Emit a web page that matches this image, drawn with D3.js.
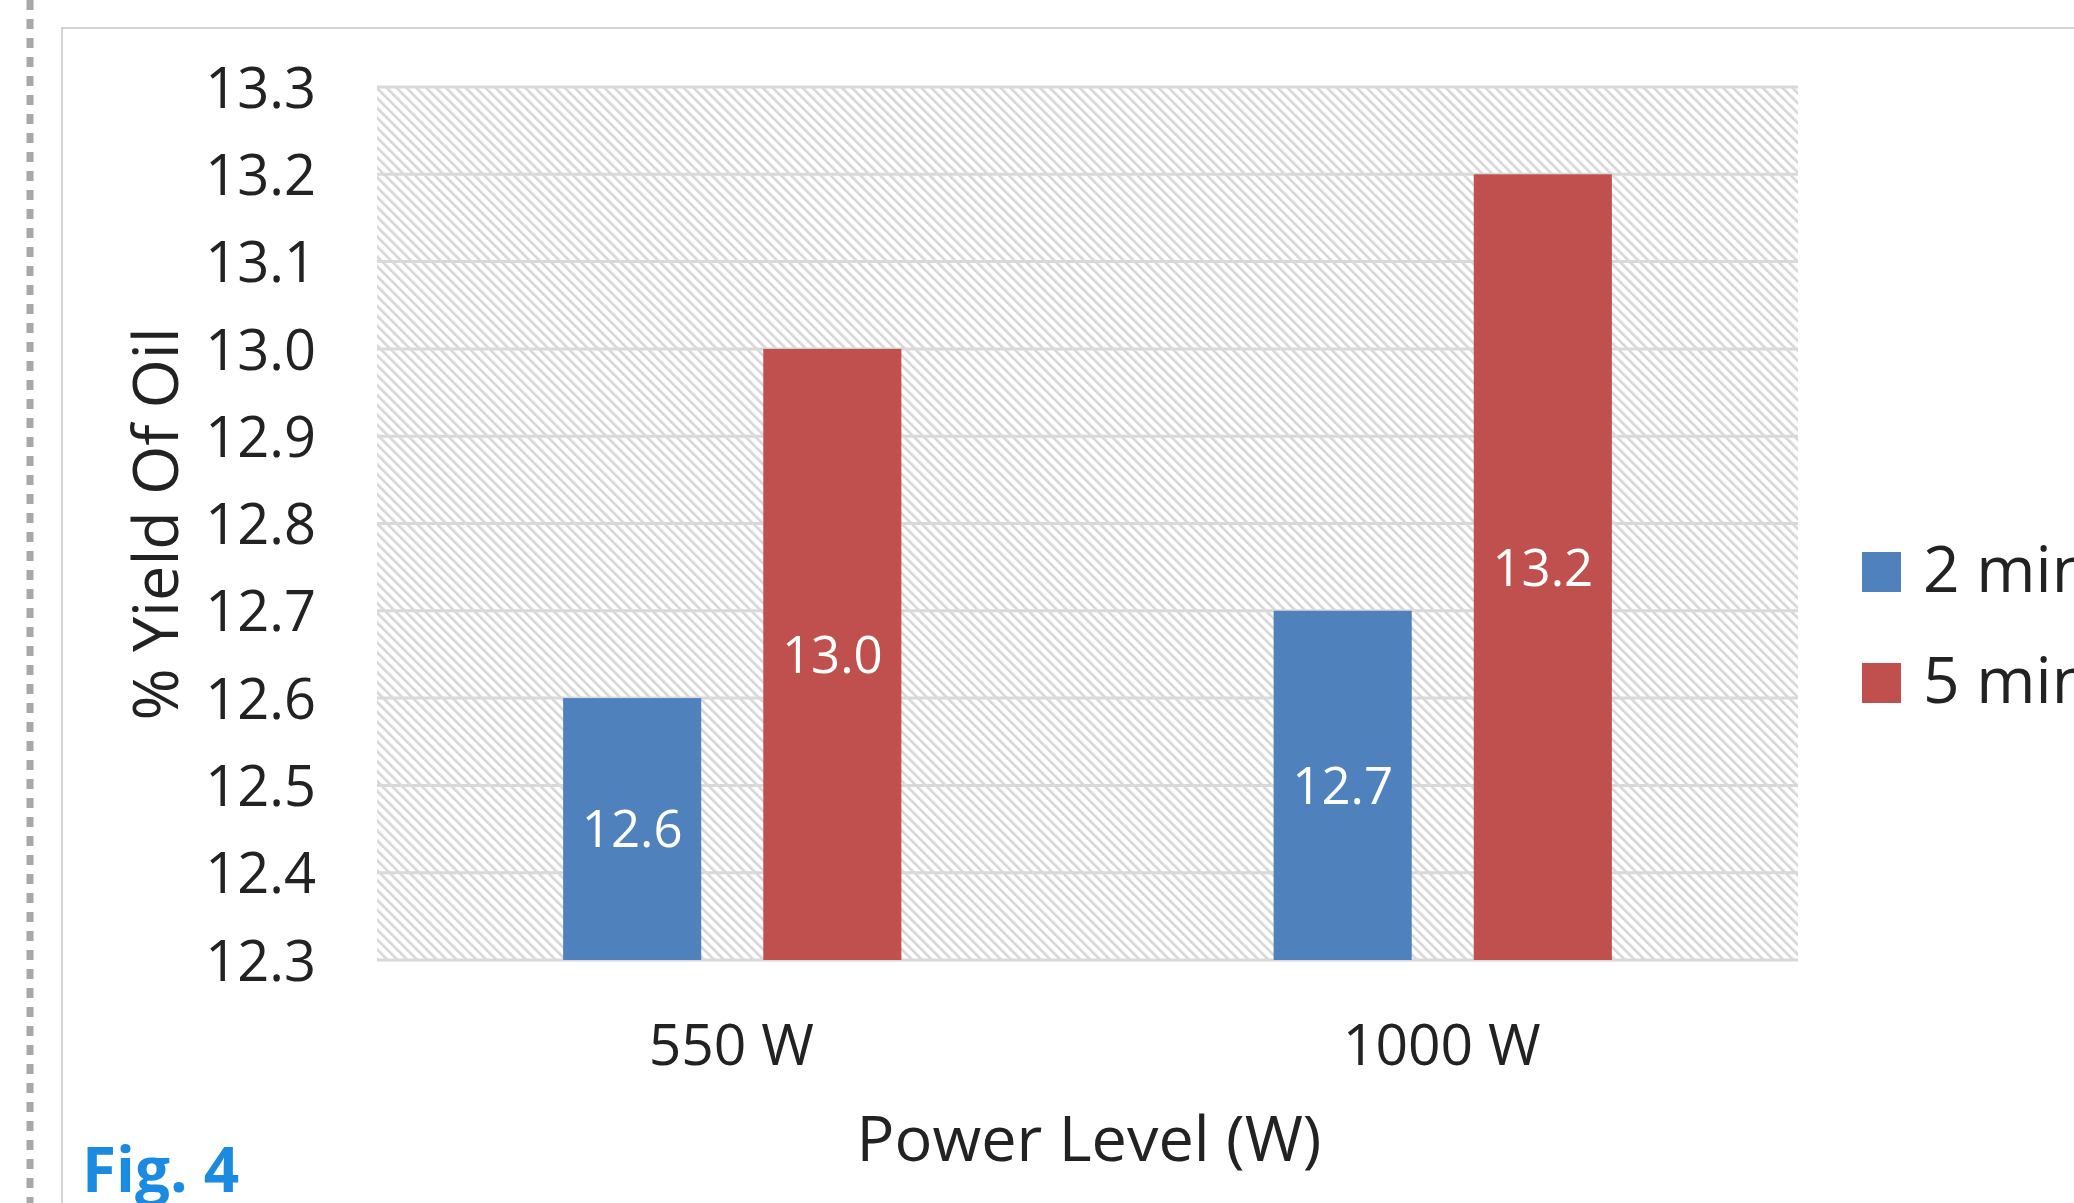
<!DOCTYPE html>
<html>
<head>
<meta charset="utf-8">
<script src="https://cdn.jsdelivr.net/npm/d3@7"></script>
<style>
  html, body { margin: 0; padding: 0; background: #ffffff; }
  svg { display: block; }
  text { font-family: "Open Sans", "Noto Sans", sans-serif; }
</style>
</head>
<body>
<div id="chart"></div>
<script>
// Oil yield by microwave power level and extraction time
const categories = ["550 W", "1000 W"];
const seriesNames = ["2 min", "5 min"];
const yield2min = [12.6, 12.7];
const yield5min = [13.0, 13.2];
const yTicks = [12.3, 12.4, 12.5, 12.6, 12.7, 12.8, 12.9, 13.0, 13.1, 13.2, 13.3];
const seriesColors = ["#4f81bd", "#c0504d"];

const W = 2074, H = 1203;
const plot = { left: 377, right: 1798, top: 87, bottom: 960 };

const svg = d3.select("#chart").append("svg")
  .attr("width", W).attr("height", H);

// downward diagonal hatch for the plot background
const defs = svg.append("defs");
const pat = defs.append("pattern")
  .attr("id", "hatch")
  .attr("patternUnits", "userSpaceOnUse")
  .attr("width", 7).attr("height", 7)
  .attr("patternTransform", "rotate(-45)");
pat.append("rect").attr("width", 7).attr("height", 7).attr("fill", "#ffffff");
pat.append("rect").attr("x", 0).attr("y", 0).attr("width", 2.6).attr("height", 7).attr("fill", "#d6d6d6");

// page decorations: dashed margin rule and chart frame
svg.append("line")
  .attr("x1", 30).attr("x2", 30).attr("y1", 0).attr("y2", H)
  .attr("stroke", "#a8a8a8").attr("stroke-width", 7)
  .attr("stroke-dasharray", "10 9");
svg.append("path")
  .attr("d", `M62,${H} L62,28 L${W},28`)
  .attr("fill", "none").attr("stroke", "#d4d4d4").attr("stroke-width", 2);

const x0 = d3.scaleBand().domain(categories).range([plot.left, plot.right]).padding(0);
const x1 = d3.scaleBand().domain(seriesNames)
  .range([0, x0.bandwidth()]).paddingInner(0.31).paddingOuter(0.93);
const y = d3.scaleLinear().domain([12.3, 13.3]).range([plot.bottom, plot.top]);

// plot area
svg.append("rect")
  .attr("x", plot.left).attr("y", plot.top)
  .attr("width", plot.right - plot.left).attr("height", plot.bottom - plot.top)
  .attr("fill", "url(#hatch)");

// gridlines
svg.append("g").selectAll("line").data(yTicks).join("line")
  .attr("x1", plot.left).attr("x2", plot.right)
  .attr("y1", d => y(d)).attr("y2", d => y(d))
  .attr("stroke", "#d9d9d9").attr("stroke-width", 3);

// y axis labels
const yAxis = d3.axisLeft(y).tickValues(yTicks).tickFormat(d3.format(".1f")).tickSize(0).tickPadding(0);
const gy = svg.append("g").attr("transform", "translate(316,0)").call(yAxis);
gy.select(".domain").remove();
gy.selectAll("text")
  .attr("font-size", 56).attr("fill", "#222").attr("dy", "0.36em")
  .style("font-family", "'Open Sans', sans-serif");

// x axis labels
const xAxis = d3.axisBottom(x0).tickSize(0).tickPadding(0);
const gx = svg.append("g").attr("transform", "translate(-1,0)").call(xAxis);
gx.select(".domain").remove();
gx.selectAll("text")
  .attr("y", 1065).attr("dy", 0)
  .attr("font-size", 57).attr("fill", "#222")
  .style("font-family", "'Open Sans', sans-serif");

// bars
const rows = categories.map((c, i) => ({
  category: c,
  values: [
    { series: seriesNames[0], value: yield2min[i], color: seriesColors[0] },
    { series: seriesNames[1], value: yield5min[i], color: seriesColors[1] }
  ]
}));

const groups = svg.append("g").selectAll("g").data(rows).join("g")
  .attr("transform", d => `translate(${x0(d.category)},0)`);

groups.selectAll("rect").data(d => d.values).join("rect")
  .attr("x", d => x1(d.series))
  .attr("width", x1.bandwidth())
  .attr("y", d => y(d.value))
  .attr("height", d => y(12.3) - y(d.value))
  .attr("fill", d => d.color);

groups.selectAll("text").data(d => d.values).join("text")
  .attr("x", d => x1(d.series) + x1.bandwidth() / 2)
  .attr("y", d => (y(d.value) + y(12.3)) / 2)
  .attr("dy", "0.36em")
  .attr("text-anchor", "middle")
  .attr("font-size", 51).attr("fill", "#ffffff")
  .text(d => d3.format(".1f")(d.value));

// axis titles
svg.append("text")
  .attr("transform", "translate(178,524) rotate(-90)")
  .attr("text-anchor", "middle")
  .attr("font-size", 63).attr("fill", "#222")
  .text("% Yield Of Oil");

svg.append("text")
  .attr("x", 1089).attr("y", 1161)
  .attr("text-anchor", "middle")
  .attr("font-size", 63).attr("fill", "#222")
  .text("Power Level (W)");

// legend
const legend = svg.append("g").selectAll("g").data(seriesNames).join("g")
  .attr("transform", (d, i) => `translate(1862,${552 + i * 111})`);
legend.append("rect").attr("width", 39).attr("height", 40)
  .attr("fill", (d, i) => seriesColors[i]);
legend.append("text").attr("x", 61).attr("y", 40)
  .attr("font-size", 64).attr("fill", "#222")
  .text(d => d);

// figure caption
svg.append("text")
  .attr("x", 82).attr("y", 1192)
  .attr("font-size", 62).attr("font-weight", "bold")
  .attr("fill", "#1a8be0")
  .text("Fig. 4");
</script>
</body>
</html>
